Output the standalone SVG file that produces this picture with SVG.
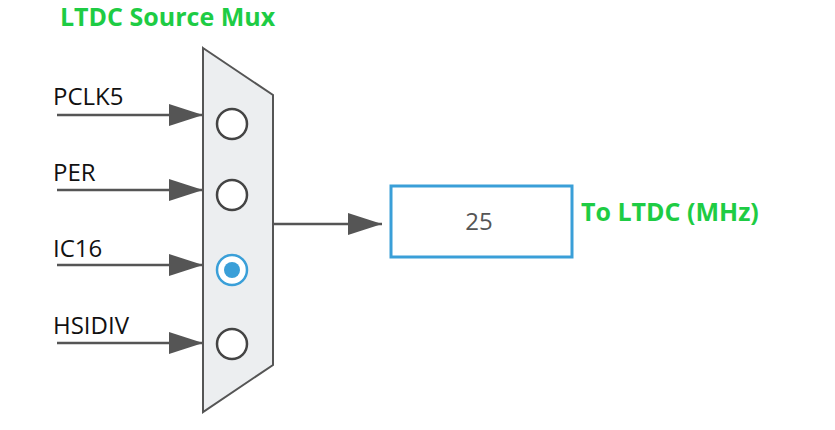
<svg xmlns="http://www.w3.org/2000/svg" width="835" height="430" viewBox="0 0 835 430">
<style>
.lbl{font-family:"Open Sans","Noto Sans",sans-serif;font-size:24px;fill:#111}
.grn{font-family:"Open Sans","Noto Sans",sans-serif;font-size:25px;font-weight:bold;fill:#1ecc44}
.ln{stroke:#555;stroke-width:2.5;fill:none}
.sel{fill:#fff;stroke:#444;stroke-width:2.5}
</style>
<defs>
<marker id="ah" markerWidth="34" markerHeight="22" refX="34" refY="11" orient="auto" markerUnits="userSpaceOnUse">
<path d="M0,0 L34,11 L0,22 Z" fill="#555"/>
</marker>
</defs>
<rect width="835" height="430" fill="#fff"/>
<text class="grn" x="60" y="26">LTDC Source Mux</text>
<g id="connectors">
<line class="ln" x1="57" y1="115" x2="203" y2="115" marker-end="url(#ah)"/>
<line class="ln" x1="57" y1="190" x2="203" y2="190" marker-end="url(#ah)"/>
<line class="ln" x1="57" y1="265" x2="203" y2="265" marker-end="url(#ah)"/>
<line class="ln" x1="57" y1="343" x2="203" y2="343" marker-end="url(#ah)"/>
<line class="ln" x1="273" y1="224" x2="382" y2="224" marker-end="url(#ah)"/>
</g>
<g id="labels">
<text class="lbl" x="53" y="105">PCLK5</text>
<text class="lbl" x="53" y="181">PER</text>
<text class="lbl" x="53" y="257">IC16</text>
<text class="lbl" x="53" y="334">HSIDIV</text>
</g>
<g id="mux">
<polygon points="203,48 273,95 273,365 203,412" fill="#eceef0" stroke="#555" stroke-width="2"/>
<circle class="sel" cx="232" cy="124" r="15"/>
<circle class="sel" cx="232" cy="195" r="15"/>
<circle cx="232" cy="270" r="15" fill="#fff" stroke="#3a9fd8" stroke-width="2.5"/>
<circle cx="232" cy="270" r="8" fill="#3a9fd8"/>
<circle class="sel" cx="232" cy="344" r="15"/>
</g>
<g id="output">
<rect x="391" y="186" width="181" height="71" fill="#fff" stroke="#3a9fd8" stroke-width="3"/>
<text x="479" y="230" text-anchor="middle" font-family="Open Sans,Noto Sans,sans-serif" font-size="24" fill="#555">25</text>
<text class="grn" x="581" y="221">To LTDC (MHz)</text>
</g>
</svg>
